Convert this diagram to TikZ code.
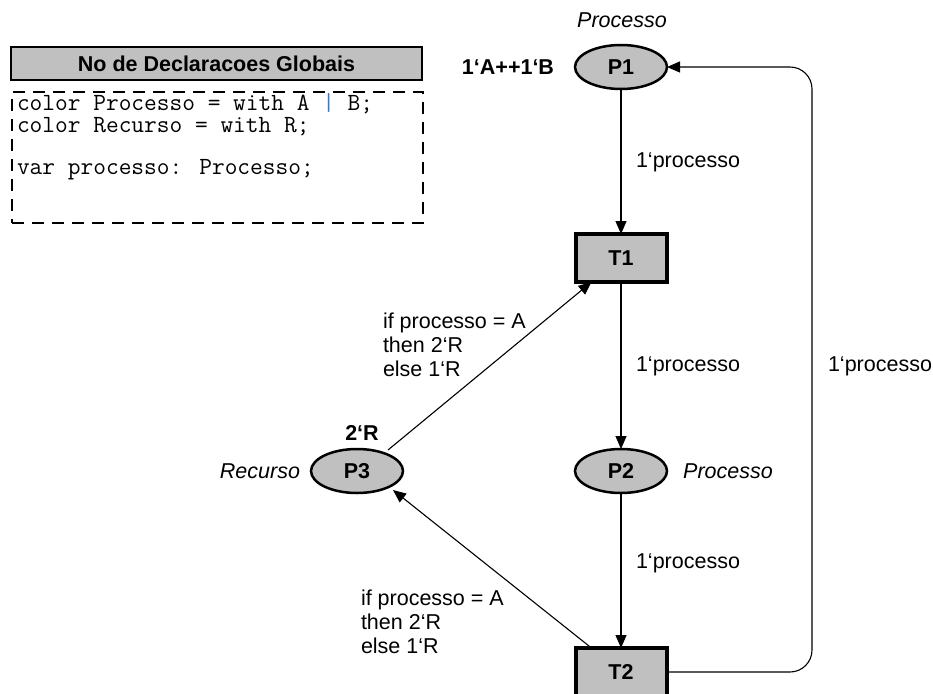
\documentclass[tikz,border=0pt]{standalone}
\usepackage{fontspec}
\setmainfont{Liberation Sans}
\usetikzlibrary{shapes.geometric,arrows.meta,calc}
\definecolor{fillgray}{HTML}{C0C0C0}
\definecolor{barblue}{HTML}{3A78C8}
\begin{document}
\begin{tikzpicture}[x=1pt,y=-1pt,
  every node/.style={inner sep=0pt, outer sep=0pt},
  txt/.style={font=\fontsize{21.5}{24}\selectfont},
  btxt/.style={font=\fontsize{21.5}{24}\selectfont\bfseries},
  itxt/.style={font=\fontsize{21.5}{24}\selectfont\itshape},
  mono/.style={font=\fontsize{24.7}{22}\ttfamily, anchor=base west},
  place/.style={ellipse, draw, fill=fillgray, line width=2.5pt,
    minimum width=92pt, minimum height=44pt, btxt},
  trans/.style={rectangle, draw, fill=fillgray, line width=4pt,
    minimum width=91pt, minimum height=48pt, btxt},
  arr/.style={-{Triangle[length=13pt,width=11pt]}, line width=1.1pt},
  guard/.style={txt, align=left, anchor=north west}]
\useasboundingbox (0,0) rectangle (933,693);

% declarations
\node[draw, fill=fillgray, line width=1.5pt, minimum width=411pt, minimum height=33pt, btxt]
  (head) at (216.5,63.5) {No de Declaracoes Globais};
\node[draw, dash pattern=on 12pt off 8pt, line width=1.5pt, minimum width=411pt, minimum height=131pt]
  (decl) at (217.5,157.5) {};
\node[mono] (d1) at (17,110) {color Processo = with A {\color{barblue}|} B;};
\node[mono] (d2) at (17,132) {color Recurso = with R;};
\node[mono] (d3) at (17,174) {var processo: Processo;};

% places and transitions
\node[place] (P1) at (621,67) {P1};
\node[trans] (T1) at (621,258) {T1};
\node[place] (P2) at (621,471) {P2};
\node[place] (P3) at (357,471) {P3};
\node[trans] (T2) at (621,672) {T2};

% inscriptions
\node[itxt] (nP1) at (622,20) {Processo};
\node[btxt] (mP1) at (508,67) {1‘A++1‘B};
\node[itxt] (nP2) at (728,471) {Processo};
\node[itxt] (nP3) at (260,471) {Recurso};
\node[btxt] (mP3) at (362,433) {2‘R};

% arcs
\draw[arr] (P1) -- (T1);
\draw[arr] (T1) -- (P2);
\draw[arr] (P2) -- (T2);
\draw[arr] ($(P3.center)+(31,-21)$) -- ($(T1.south west)+(16,0)$);
\draw[arr] ($(T2.north west)+(16,0)$) -- ($(P3.center)+(36,19)$);
\coordinate (ret) at (812,366);
\draw[arr, rounded corners=22pt] (T2.east) -| (ret) |- (P1.east);

% arc inscriptions
\node[txt] (a1) at (688,162) {1‘processo};
\node[txt] (a2) at (688,366) {1‘processo};
\node[txt] (a3) at (688,563) {1‘processo};
\node[txt] (a4) at (880,366) {1‘processo};
\node[guard] (g1) at (383,313) {if processo = A\\then 2‘R\\else 1‘R};
\node[guard] (g2) at (361,590) {if processo = A\\then 2‘R\\else 1‘R};
\end{tikzpicture}
\end{document}
